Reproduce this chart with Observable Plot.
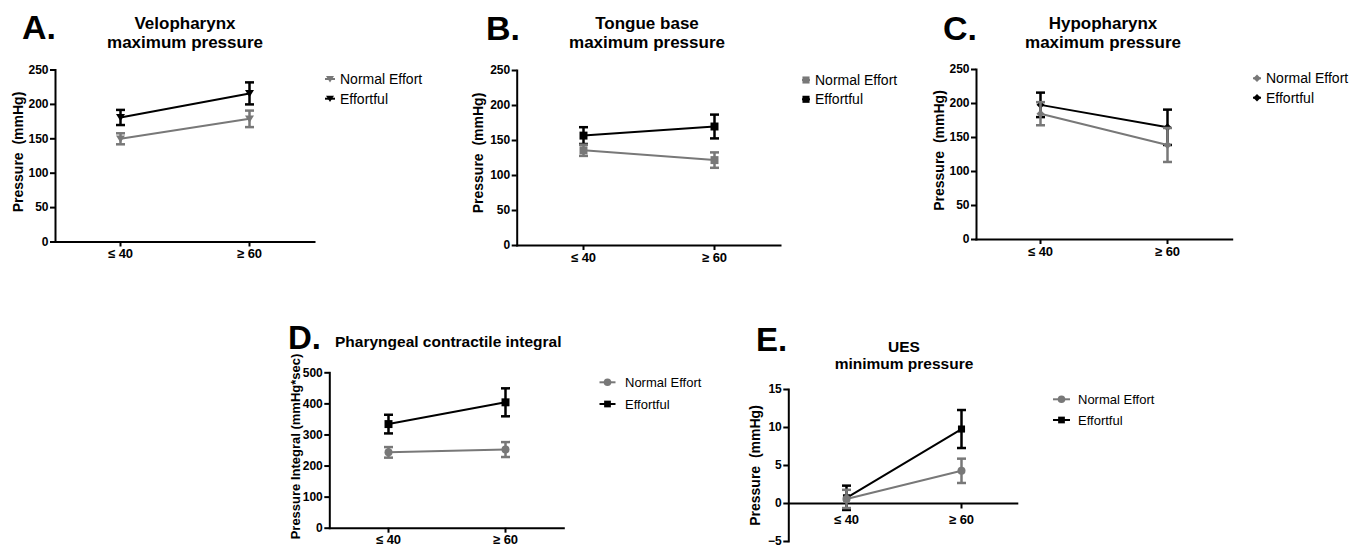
<!DOCTYPE html>
<html>
<head>
<meta charset="utf-8">
<script src="https://cdn.jsdelivr.net/npm/d3@7"></script>
<script src="https://cdn.jsdelivr.net/npm/@observablehq/plot@0.6"></script>
<style>
  html, body { margin: 0; padding: 0; background: #fff; }
  #root { position: relative; width: 1351px; height: 548px; overflow: hidden; background: #fff;
          font-family: "Liberation Sans", Arial, sans-serif; }
  .panel { position: absolute; }
  #overlay { position: absolute; left: 0; top: 0; pointer-events: none; }
</style>
</head>
<body>
<div id="root"></div>
<script>
// ---------- data ----------
const groups = ["≤ 40", "≥ 60"];
const series = ["Normal Effort", "Effortful"];

// A. Velopharynx maximum pressure (mmHg), mean ± error
const veloNormal = [150, 179];
const veloNormalErr = [8, 12];
const veloEffort = [181, 216];
const veloEffortErr = [11, 16];

// B. Tongue base maximum pressure (mmHg)
const tongueNormal = [136, 122];
const tongueNormalErr = [8, 11];
const tongueEffort = [157, 170];
const tongueEffortErr = [12, 17];

// C. Hypopharynx maximum pressure (mmHg)
const hypoNormal = [185, 139];
const hypoNormalErr = [17, 25];
const hypoEffort = [198, 165];
const hypoEffortErr = [18, 26];

// D. Pharyngeal contractile integral (mmHg*sec)
const pciNormal = [244, 253];
const pciNormalErr = [17, 24];
const pciEffort = [335, 405];
const pciEffortErr = [30, 45];

// E. UES minimum pressure (mmHg)
const uesNormal = [0.6, 4.3];
const uesNormalErr = [1.2, 1.6];
const uesEffort = [0.75, 9.8];
const uesEffortErr = [1.6, 2.5];

const ticks250 = [0, 50, 100, 150, 200, 250];
const ticks500 = [0, 100, 200, 300, 400, 500];
const ticksUES = [-5, 0, 5, 10, 15];

// ---------- styling ----------
const GRAY = "#787878";
const BLACK = "#000000";
const FONT = "'Liberation Sans', Arial, sans-serif";

const capSym = { draw(ctx, size) { const r = Math.sqrt(size / Math.PI); ctx.moveTo(-r, 0); ctx.lineTo(r, 0); } };
const tickSym = { draw(ctx, size) { const r = Math.sqrt(size / Math.PI); ctx.moveTo(0, 0); ctx.lineTo(0, r); } };
const triDown = { draw(ctx, size) { const r = Math.sqrt(size / Math.PI); ctx.moveTo(-r, -r * 0.75); ctx.lineTo(r, -r * 0.75); ctx.lineTo(0, r * 0.85); ctx.closePath(); } };

const panels = [
  { id: "A", left: 0, top: 55, width: 320, height: 215, ml: 55, mr: 6, mt: 14.5, mb: 28.5,
    values: [veloNormal, veloEffort], errors: [veloNormalErr, veloEffortErr], domain: [0, 250], ticks: ticks250,
    ylabel: "Pressure  (mmHg)", labelSize: 14, labelOffset: 42, labelDy: -4, symbols: [triDown, triDown], r: [4.5, 4.5] },
  { id: "B", left: 460, top: 55, width: 325, height: 218, ml: 56.7, mr: 5, mt: 15, mb: 28,
    values: [tongueNormal, tongueEffort], errors: [tongueNormalErr, tongueEffortErr], domain: [0, 250], ticks: ticks250,
    ylabel: "Pressure  (mmHg)", labelSize: 14, labelOffset: 44, labelDy: -5, symbols: ["square", "square"], r: [4.5, 4.5] },
  { id: "C", left: 920, top: 55, width: 318, height: 212, ml: 56, mr: 6.3, mt: 14, mb: 28,
    values: [hypoNormal, hypoEffort], errors: [hypoNormalErr, hypoEffortErr], domain: [0, 250], ticks: ticks250,
    ylabel: "Pressure  (mmHg)", labelSize: 14, labelOffset: 42.7, labelDy: -4, symbols: ["diamond2", "diamond2"], r: [3.6, 3.6] },
  { id: "D", left: 275, top: 340, width: 295, height: 208, ml: 54.3, mr: 6.7, mt: 32.3, mb: 20.3,
    values: [pciNormal, pciEffort], errors: [pciNormalErr, pciEffortErr], domain: [0, 500], ticks: ticks500,
    ylabel: "Pressure Integral (mmHg*sec)", labelSize: 13, labelOffset: 39, labelDy: -4, symbols: ["circle", "square"], r: [4, 4.5] },
  { id: "E", left: 735, top: 375, width: 290, height: 173, ml: 53.3, mr: 6.7, mt: 14, mb: 7,
    values: [uesNormal, uesEffort], errors: [uesNormalErr, uesEffortErr], domain: [-5, 15], ticks: ticksUES,
    ylabel: "Pressure  (mmHg)", labelSize: 14, labelOffset: 38.3, labelDy: 0, symbols: ["circle", "square"], r: [4, 4], zeroAxis: true }
];

const root = document.getElementById("root");

function makePanel(p) {
  const rows = [];
  [1, 0].forEach(si => groups.forEach((g, gi) => rows.push({
    series: series[si], group: g, value: p.values[si][gi], err: p.errors[si][gi]
  })));
  const symFor = s => p.symbols[series.indexOf(s)];
  const marks = [
    Plot.frame({ anchor: "left", strokeWidth: 2 }),
    Plot.axisY({ ticks: p.ticks, tickSize: 5, tickPadding: 2, strokeWidth: 2, label: null, fontSize: 12, fontWeight: "bold" }),
    Plot.text([p.ylabel], { frameAnchor: "left", rotate: -90, lineAnchor: "top", textAnchor: "middle",
      dx: -p.labelOffset, dy: p.labelDy, fontSize: p.labelSize, fontWeight: "bold", fill: BLACK })
  ];
  if (p.zeroAxis) {
    marks.push(
      Plot.ruleY([0], { strokeWidth: 2 }),
      Plot.dot(groups, { x: d => d, y: () => 0, symbol: tickSym, r: 5, stroke: BLACK, strokeWidth: 2, fill: "none" }),
      Plot.text(groups, { x: d => d, y: () => 0, text: d => d, dy: 16, fontSize: 13, fontWeight: "bold", fill: BLACK })
    );
  } else {
    marks.push(
      Plot.frame({ anchor: "bottom", strokeWidth: 2 }),
      Plot.axisX({ tickSize: 5, tickPadding: 2, strokeWidth: 2, label: null, fontSize: 13, fontWeight: "bold" })
    );
  }
  for (const s of [series[1], series[0]]) {
    const sub = rows.filter(d => d.series === s);
    const col = s === series[0] ? GRAY : BLACK;
    const si = series.indexOf(s);
    marks.push(
      Plot.ruleX(sub, { x: "group", y1: d => d.value - d.err, y2: d => d.value + d.err, stroke: col, strokeWidth: 2.5 }),
      Plot.dot(sub, { x: "group", y: d => d.value + d.err, symbol: capSym, r: 4.5, stroke: col, strokeWidth: 2.5, fill: "none" }),
      Plot.dot(sub, { x: "group", y: d => d.value - d.err, symbol: capSym, r: 4.5, stroke: col, strokeWidth: 2.5, fill: "none" }),
      Plot.line(sub, { x: "group", y: "value", stroke: col, strokeWidth: 2 }),
      Plot.dot(sub, { x: "group", y: "value", symbol: symFor(s), r: p.r[si], fill: col, stroke: "none" })
    );
  }
  const chart = Plot.plot({
    width: p.width, height: p.height,
    marginLeft: p.ml, marginRight: p.mr, marginTop: p.mt, marginBottom: p.mb,
    style: { fontFamily: FONT, fontWeight: "bold", fontSize: "12px", color: BLACK, background: "transparent", overflow: "visible" },
    x: { type: "point", domain: groups, padding: 0.5, axis: null },
    y: { domain: p.domain, axis: null },
    marks
  });
  const div = document.createElement("div");
  div.className = "panel";
  div.style.left = p.left + "px";
  div.style.top = p.top + "px";
  div.appendChild(chart);
  root.appendChild(div);
}
panels.forEach(makePanel);

// ---------- overlay: panel letters, titles, legends ----------
const svg = d3.select(root).append("svg").attr("id", "overlay")
  .attr("width", 1351).attr("height", 548).style("font-family", FONT);

const letters = [
  { t: "A.", x: 22, y: 39, size: 34 },
  { t: "B.", x: 486, y: 40, size: 34 },
  { t: "C.", x: 943, y: 40, size: 34 },
  { t: "D.", x: 288, y: 349, size: 33 },
  { t: "E.", x: 756, y: 351, size: 33 }
];
svg.selectAll("text.letter").data(letters).join("text").attr("class", "letter")
  .attr("x", d => d.x).attr("y", d => d.y).attr("font-size", d => d.size)
  .attr("font-weight", "bold").attr("fill", BLACK).text(d => d.t);

const titles = [
  { lines: ["Velopharynx", "maximum pressure"], x: 185, y: 29, lh: 19, size: 17, anchor: "middle" },
  { lines: ["Tongue base", "maximum pressure"], x: 647, y: 29, lh: 19, size: 17, anchor: "middle" },
  { lines: ["Hypopharynx", "maximum pressure"], x: 1103, y: 28.5, lh: 19, size: 17, anchor: "middle" },
  { lines: ["Pharyngeal contractile integral"], x: 335, y: 347, lh: 18, size: 15.5, anchor: "start" },
  { lines: ["UES", "minimum pressure"], x: 904, y: 351.5, lh: 17, size: 15.5, anchor: "middle" }
];
titles.forEach(t => {
  const te = svg.append("text").attr("font-size", t.size).attr("font-weight", "bold")
    .attr("text-anchor", t.anchor).attr("fill", BLACK);
  t.lines.forEach((l, i) => te.append("tspan").attr("x", t.x).attr("y", t.y + i * t.lh).text(l));
});

const legends = [
  { x: 330, y: 79, dy: 19.7, fs: 14, half: 5, textX: 340, symbols: [triDown, triDown], r: 4 },
  { x: 806, y: 80, dy: 19.3, fs: 14, half: 4, textX: 815, symbols: ["square", "square"], r: 4 },
  { x: 1257, y: 78.3, dy: 19.4, fs: 14, half: 4, textX: 1266, symbols: ["diamond2", "diamond2"], r: 3.4 },
  { x: 607.5, y: 382.3, dy: 21.7, fs: 13, half: 8, textX: 625, symbols: ["circle", "square"], r: 3.8 },
  { x: 1061.5, y: 399.3, dy: 20.7, fs: 13, half: 8.5, textX: 1078, symbols: ["circle", "square"], r: 3.8 }
];
const symMap = { circle: d3.symbolCircle, square: d3.symbolSquare, diamond2: d3.symbolDiamond2 };
legends.forEach(L => {
  series.forEach((s, i) => {
    const col = i === 0 ? GRAY : BLACK;
    const cy = L.y + i * L.dy;
    svg.append("line").attr("x1", L.x - L.half).attr("x2", L.x + L.half)
      .attr("y1", cy).attr("y2", cy).attr("stroke", col).attr("stroke-width", 2);
    const sym = typeof L.symbols[i] === "string" ? symMap[L.symbols[i]] : L.symbols[i];
    svg.append("path").attr("d", d3.symbol(sym, L.r * L.r * Math.PI)())
      .attr("transform", `translate(${L.x},${cy})`).attr("fill", col);
    svg.append("text").attr("x", L.textX).attr("y", cy).attr("dy", "0.36em")
      .attr("font-size", L.fs).attr("fill", BLACK).text(s);
  });
});
</script>
</body>
</html>
